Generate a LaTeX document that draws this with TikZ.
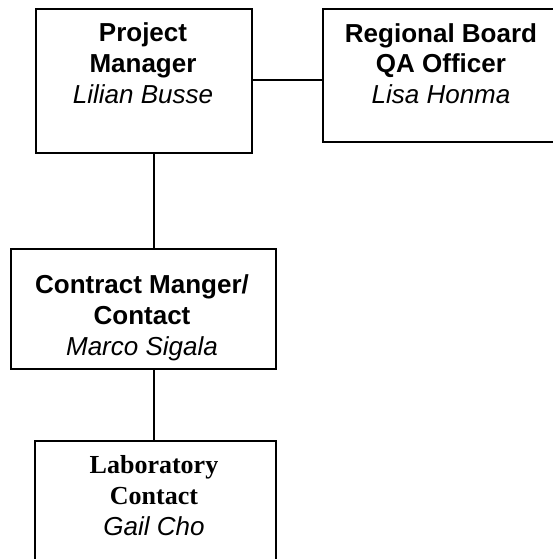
\documentclass[tikz,border=0pt]{standalone}
\usepackage{fontspec}
\setmainfont{Liberation Sans}
\newfontfamily\timesfont{Liberation Serif}
\begin{document}
\begin{tikzpicture}[x=1pt,y=-1pt,
  box/.style={draw=black,line width=2pt,fill=none,rectangle,inner sep=0pt,anchor=north west},
  label/.style={anchor=base,align=center,inner sep=0pt,font=\fontsize{26}{31}\selectfont},
  conn/.style={line width=2pt}]
\useasboundingbox (0,0) rectangle (552,559);
\fill[white] (0,0) rectangle (552,559);
% boxes
\node[box,minimum width=216pt,minimum height=144pt] (pm) at (35,8) {};
\node[box,minimum width=239pt,minimum height=133pt] (rb) at (322,8) {};
\node[box,minimum width=265pt,minimum height=120pt] (cm) at (10,248) {};
\node[box,minimum width=241pt,minimum height=125pt] (lab) at (34,440) {};
% texts (base anchor = baseline of the last line)
\node[label] (pmt) at (143,103) {\textbf{Project}\\\textbf{Manager}\\\textit{Lilian Busse}};
\node[label] (rbt) at (441,104) {\textbf{Regional Board}\\\textbf{QA Officer}\\\textit{Lisa Honma}};
\node[label] (cmt) at (142,355) {\textbf{Contract Manger/}\\\textbf{Contact}\\\textit{Marco Sigala}};
\node[label] (labt) at (154,535) {{\timesfont\bfseries Laboratory}\\{\timesfont\bfseries Contact}\\\textit{Gail Cho}};
% connectors
\coordinate (h) at (0,80);
\coordinate (v) at (154,0);
\draw[conn] (pm.east |- h) -- (rb.west |- h);
\draw[conn] (pm.south -| v) -- (cm.north -| v);
\draw[conn] (cm.south -| v) -- (lab.north -| v);
\end{tikzpicture}
\end{document}
